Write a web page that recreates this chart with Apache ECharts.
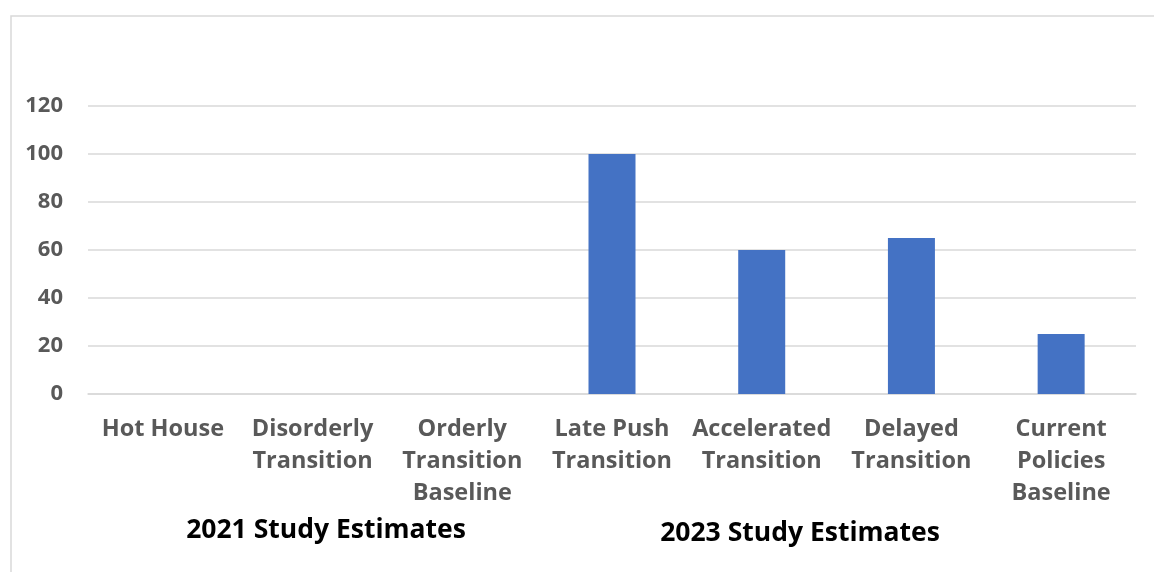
<!DOCTYPE html>
<html>
<head>
<meta charset="utf-8">
<script src="https://cdn.jsdelivr.net/npm/echarts@6/dist/echarts.min.js"></script>
<style>
  html, body { margin: 0; padding: 0; background: #fff; }
  #chart { width: 1154px; height: 572px; }
</style>
</head>
<body>
<div id="chart"></div>
<script>
// scenario names and estimates
const categories = [
  'Hot House',
  'Disorderly\nTransition',
  'Orderly\nTransition\nBaseline',
  'Late Push\nTransition',
  'Accelerated\nTransition',
  'Delayed\nTransition',
  'Current\nPolicies\nBaseline'
];
const values = [0, 0, 0, 100, 60, 65, 25];
const groupLabels = ['2021 Study Estimates', '2023 Study Estimates'];

const chart = echarts.init(document.getElementById('chart'));
const font = '"Open Sans", sans-serif';

const option = {
  animation: false,
  grid: { left: 88, right: 18, top: 106, bottom: 178, containLabel: false },
  xAxis: {
    type: 'category',
    data: categories,
    axisLine: { show: true, lineStyle: { color: '#d9d9d9', width: 1.5 } },
    axisTick: { show: false },
    axisLabel: {
      interval: 0,
      margin: 19,
      color: '#595959',
      fontFamily: font,
      fontWeight: 'bold',
      fontSize: 23.5,
      lineHeight: 32
    }
  },
  yAxis: {
    type: 'value',
    min: 0,
    max: 120,
    interval: 20,
    axisLine: { show: false },
    axisTick: { show: false },
    splitLine: { lineStyle: { color: '#d9d9d9', width: 1.5 } },
    axisLabel: {
      margin: 25,
      color: '#595959',
      fontFamily: font,
      fontWeight: 'bold',
      fontSize: 22
    }
  },
  series: [{
    type: 'bar',
    data: values,
    barWidth: 47,
    itemStyle: { color: '#4472c4' }
  }],
  graphic: [
    {
      type: 'polyline',
      shape: { points: [[11, 572], [11, 16], [1154, 16]] },
      style: { stroke: '#d9d9d9', lineWidth: 1.5, fill: null }
    },
    {
      type: 'text',
      x: 326, y: 530,
      style: {
        text: groupLabels[0],
        fill: '#000',
        font: 'bold 26.5px ' + font,
        textAlign: 'center',
        textVerticalAlign: 'middle'
      }
    },
    {
      type: 'text',
      x: 800, y: 533,
      style: {
        text: groupLabels[1],
        fill: '#000',
        font: 'bold 26.5px ' + font,
        textAlign: 'center',
        textVerticalAlign: 'middle'
      }
    }
  ]
};

chart.setOption(option);
</script>
</body>
</html>
